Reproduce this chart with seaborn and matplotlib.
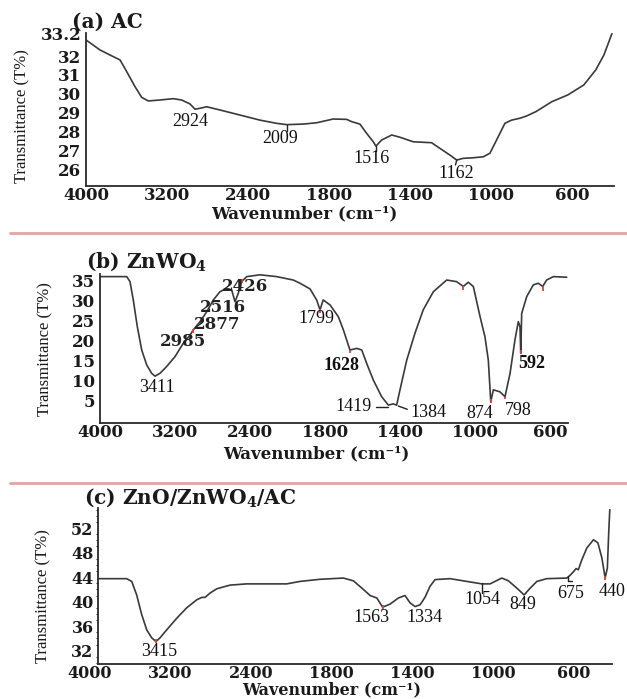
import numpy as np
import pandas as pd
import matplotlib
matplotlib.use("Agg")
import matplotlib.pyplot as plt
from matplotlib.lines import Line2D
import seaborn as sns

W, H = 627, 699

# ---------------- data ----------------
TICK_WN = [4000, 3200, 2400, 1800, 1400, 1000, 600]
TICK_LABELS = ["4000", "3200", "2400", "1800", "1400", "1000", "600"]

# (a) AC
AC_WN = [4000, 3862, 3763, 3664, 3598, 3516, 3450, 3385, 3269, 3138, 3055, 2973, 2923,
         2874, 2808, 2677, 2479, 2311, 2188, 2113, 1990, 1891, 1779, 1712, 1688, 1647,
         1614, 1581, 1568, 1540, 1490, 1449, 1384, 1293, 1252, 1202, 1169, 1137, 1088,
         1038, 1005, 972, 931, 898, 857, 824, 778, 699, 620, 541, 482, 442, 402]
AC_T = [32.86, 32.33, 32.06, 31.80, 31.18, 30.38, 29.81, 29.62, 29.67, 29.74, 29.67, 29.46, 29.18,
        29.23, 29.31, 29.14, 28.87, 28.60, 28.43, 28.36, 28.39, 28.46, 28.66, 28.64, 28.52, 28.39,
        27.90, 27.45, 27.22, 27.54, 27.81, 27.69, 27.45, 27.40, 27.10, 26.74, 26.48, 26.57, 26.60,
        26.65, 26.84, 27.54, 28.43, 28.60, 28.70, 28.82, 29.05, 29.58, 29.94, 30.47, 31.27, 32.06, 33.20]
AC_YTICKS = [26, 27, 28, 29, 30, 31, 32, 33.2]
AC_YLABELS = ["26", "27", "28", "29", "30", "31", "32", "33.2"]
AC_PEAKS = ["2924", "2009", "1516", "1162"]

# (b) ZnWO4
ZW_WN = [3993, 3715, 3680, 3645, 3602, 3555, 3502, 3449, 3413, 3360, 3289, 3200, 3111, 3040,
         3005, 2933, 2862, 2791, 2720, 2649, 2595, 2560, 2525, 2489, 2435, 2320, 2187, 2054,
         2000, 1920, 1867, 1840, 1814, 1773, 1729, 1702, 1667, 1631, 1604, 1578, 1542, 1498,
         1462, 1436, 1418, 1400, 1364, 1320, 1276, 1222, 1151, 1098, 1062, 1036, 1009, 973,
         947, 929, 916, 902, 867, 840, 813, 787, 769, 760, 756, 751, 724, 689, 662, 639,
         618, 582, 511]
ZW_T = [35.85, 35.85, 34.6, 30.05, 23.4, 17.6, 13.9, 11.8, 11.1, 11.8, 13.5, 15.95, 19.3, 21.3,
        22.6, 24.65, 27.1, 30.05, 32.1, 32.96, 32.5, 29.6, 31.7, 34.6, 35.85, 36.3, 35.85, 35.0,
        34.2, 32.8, 30.05, 27.6, 30.05, 28.8, 25.9, 22.6, 17.6, 18.0, 17.6, 14.3, 10.1, 6.0,
        3.9, 4.2, 3.9, 7.7, 15.1, 21.8, 27.6, 32.1, 35.0, 34.6, 33.4, 34.45, 33.4, 25.9,
        20.9, 15.1, 4.75, 7.7, 7.2, 6.0, 11.8, 20.1, 24.65, 23.4, 16.8, 26.7, 30.9, 33.8, 34.2, 33.4,
        35.0, 35.85, 35.7]
ZW_YTICKS = [5, 10, 15, 20, 25, 30, 35]
ZW_PEAKS = ["3411", "2985", "2877", "2516", "2426", "1799", "1628", "1419", "1384", "874", "798", "592"]
ZW_MARK_WN = [3005, 2898, 2489, 1840, 1667, 1062, 916, 840, 756, 639]
ZW_MARK_TOP = [22.75, 25.6, 35.2, 27.8, 17.6, 33.4, 5.5, 6.0, 17.5, 33.4]
ZW_MARK_BOT = [21.75, 24.65, 34.2, 26.8, 16.8, 32.5, 4.3, 5.4, 16.5, 32.2]

# (c) ZnO/ZnWO4/AC
ZZ_WN = [3918, 3636, 3586, 3537, 3487, 3437, 3388, 3345, 3305, 3239, 3139, 3040, 2941, 2891,
         2858, 2809, 2742, 2610, 2445, 2285, 2136, 2037, 1888, 1743, 1693, 1644, 1610, 1577,
         1548, 1511, 1470, 1437, 1412, 1387, 1362, 1338, 1313, 1288, 1213, 1130, 1056, 1015,
         957, 924, 882, 846, 816, 783, 734, 634, 618, 602, 588, 577, 560, 535, 502, 480,
         460, 444, 433, 426, 421]
ZZ_T = [43.75, 43.75, 43.3, 41.1, 37.9, 35.4, 34.1, 33.5, 34.1, 35.4, 37.3, 39.0, 40.3, 40.7,
        40.7, 41.4, 42.1, 42.7, 42.9, 42.9, 42.9, 43.3, 43.65, 43.85, 43.4, 42.0, 41.0, 40.6,
        39.1, 39.6, 40.6, 41.0, 39.8, 39.2, 39.5, 40.7, 42.5, 43.6, 43.75, 43.3, 42.9, 42.9,
        43.85, 43.4, 42.2, 41.1, 42.2, 43.3, 43.75, 43.85, 44.3, 44.85, 45.4, 45.2, 46.8, 48.75, 50.1, 49.6,
        47.1, 43.85, 45.5, 51.5, 55.0]
ZZ_YTICKS = [32, 36, 40, 44, 48, 52]
ZZ_PEAKS = ["3415", "1563", "1334", "1054", "849", "675", "440"]
ZZ_MARK_WN = [3345, 1548, 444]
ZZ_MARK_TOP = [33.9, 39.4, 44.2]
ZZ_MARK_BOT = [33.3, 38.8, 43.6]

# ---------------- style ----------------
sns.set_theme(style="white")
plt.rcParams["font.family"] = ["DejaVu Serif"]
plt.rcParams["mathtext.fontset"] = "dejavuserif"

CURVE = "#3a3a3a"
SPINE = "#2a2a2a"
RED = "#e0403c"
TIMES = ["Liberation Serif", "DejaVu Serif"]
WIDE = ["DejaVu Serif"]

# piecewise axis: tick labels equally spaced
_ext_wn = np.array([4800, 4000, 3200, 2400, 1800, 1400, 1000, 600, 200, -200], float)
_ext_pos = np.array([-1, 0, 1, 2, 3, 4, 5, 6, 7, 8], float)


def fwd(w):
    # increasing in wavenumber
    return -np.interp(-np.asarray(w, float), -_ext_wn, _ext_pos)


def inv(q):
    return np.interp(-np.asarray(q, float), _ext_pos, _ext_wn)


def box(l, t, r, b):
    return [l / W, 1 - b / H, (r - l) / W, (b - t) / H]


def fxy(x, y):
    return (x / W, 1 - y / H)


fig = plt.figure(figsize=(W / 100, H / 100), dpi=100)


def make_panel(rect, wn, t, xright, ylim, yticks, ylabels, left_spine=None, tsize=12):
    ax = fig.add_axes(box(*rect))
    df = pd.DataFrame({"wn": wn, "T": t})
    sns.lineplot(data=df, x="wn", y="T", ax=ax, color=CURVE, linewidth=1.2,
                 estimator=None, sort=False)
    ax.set_xscale("function", functions=(fwd, inv))
    ax.set_xlim(4000, xright)
    ax.set_ylim(*ylim)
    ax.set_xticks(TICK_WN, labels=TICK_LABELS)
    ax.set_yticks(yticks, labels=ylabels)
    ax.set_xlabel("")
    ax.set_ylabel("")
    for s in ["top", "right"]:
        ax.spines[s].set_visible(False)
    for s in ["left", "bottom"]:
        ax.spines[s].set_color(SPINE)
        ax.spines[s].set_linewidth(1.3)
    if left_spine is not None:
        ax.spines["left"].set_position(("data", left_spine))
        ax.spines["bottom"].set_bounds(left_spine, xright)
    ax.tick_params(axis="x", direction="out", length=0, pad=1, labelsize=tsize,
                   labelcolor="#1a1a1a")
    ax.tick_params(axis="y", direction="out", length=2.5, width=1, color=SPINE,
                   pad=1, labelsize=tsize, labelcolor="#1a1a1a")
    for lbl in ax.get_xticklabels() + ax.get_yticklabels():
        lbl.set_fontweight("bold")
        lbl.set_family(WIDE)
    return ax


# panel a
ax_a = make_panel((86, 33, 614, 186), AC_WN, AC_T, 392, (25.10, 33.23), AC_YTICKS, AC_YLABELS)
# panel b
ax_b = make_panel((100, 274, 568, 423), ZW_WN, ZW_T, 504, (-0.55, 36.5), ZW_YTICKS,
                  [str(v) for v in ZW_YTICKS])
ax_b.vlines(ZW_MARK_WN, ZW_MARK_BOT, ZW_MARK_TOP, color=RED, linewidth=1.3)
# panel c
ax_c = make_panel((90, 508, 612, 663.5), ZZ_WN, ZZ_T, 410, (29.91, 55.28), ZZ_YTICKS,
                  [str(v) for v in ZZ_YTICKS], left_spine=3916, tsize=11.5)
ax_c.vlines(ZZ_MARK_WN, ZZ_MARK_BOT, ZZ_MARK_TOP, color=RED, linewidth=1.3)
ax_c.yaxis.set_minor_locator(matplotlib.ticker.MultipleLocator(1))
ax_c.tick_params(axis="y", which="minor", left=True, length=1.5, width=0.8, color=SPINE)

# ---------------- titles / axis labels ----------------
TITLE_KW = dict(fontsize=14.5, fontweight="bold", family=WIDE, color="#1a1a1a",
                ha="left", va="center")
fig.text(*fxy(72, 21.5), "(a) AC", **TITLE_KW)
fig.text(*fxy(86, 262), r"(b) ZnWO$_\mathbf{4}$", **TITLE_KW)
fig.text(*fxy(84, 498), r"(c) ZnO/ZnWO$_\mathbf{4}$/AC", **TITLE_KW)

XLABEL = "Wavenumber (cm\u207b\u00b9)"
XL_KW = dict(fontsize=12, fontweight="bold", family=WIDE, color="#1a1a1a",
             ha="center", va="center")
fig.text(*fxy(304, 214), XLABEL, **XL_KW)
fig.text(*fxy(316, 454), XLABEL, **XL_KW)
fig.text(*fxy(332, 698.5), XLABEL, **dict(XL_KW, fontsize=11.5, va="bottom"))

YL_KW = dict(fontsize=12, family=TIMES, color="#1a1a1a", rotation=90,
             ha="center", va="center")
fig.text(*fxy(22, 116), "Transmittance (T%)", **YL_KW)
fig.text(*fxy(45, 349), "Transmittance (T%)", **YL_KW)
fig.text(*fxy(43, 596), "Transmittance (T%)", **YL_KW)

# ---------------- peak labels ----------------
PK = dict(fontsize=13, family=TIMES, color="#111111", ha="center", va="center")
PKB = dict(PK, fontweight="bold")
PKW = dict(fontsize=12, family=WIDE, fontweight="bold", color="#222222",
           ha="center", va="center")

for lab, (x, y) in zip(AC_PEAKS, [(190, 121.5), (280, 138.5), (371.7, 158.5), (456.7, 173.5)]):
    fig.text(*fxy(x, y), lab, **PK)

zw_pos = [(156.7, 388), (183.3, 341.7), (216.7, 324.5), (223.3, 307.5), (245, 287),
          (316.7, 318.3), (341.7, 365), (353.3, 406.7), (428.3, 412.3), (480, 413.3),
          (518.3, 410), (531.7, 364)]
zw_style = [PK, PKW, PKW, PKW, PKW, PK, PKB, PK, PK, PK, PK, PKB]
for lab, (x, y), kw in zip(ZW_PEAKS, zw_pos, zw_style):
    fig.text(*fxy(x, y), lab, **kw)

zz_pos = [(159, 651), (371.7, 617.3), (424, 617.3), (482.7, 599.7), (522.7, 604.7),
          (570.7, 593), (611.7, 591.3)]
for lab, (x, y) in zip(ZZ_PEAKS, zz_pos):
    fig.text(*fxy(x, y), lab, **PK)

# leader lines for labels (figure pixels)
LEADERS = [
    [(286.7, 125), (286.7, 131)],
    [(376, 146), (376, 151)],
    [(456.7, 160), (455.5, 165)],
    [(376, 407), (388, 407)],
    [(398.3, 406), (407.3, 409.3)],
    [(481.7, 583), (481.7, 593)],
    [(567.7, 576.3), (567.7, 580.7), (571.7, 580.7)],
]
for pts in LEADERS:
    xs = [p[0] / W for p in pts]
    ys = [1 - p[1] / H for p in pts]
    fig.add_artist(Line2D(xs, ys, color="#222222", linewidth=1.0))

# pink separators
for y in (233, 483.3):
    fig.add_artist(Line2D([10 / W, 1.0], [1 - y / H] * 2, color="#e3a3a3", linewidth=2))

fig.savefig("out.png", dpi=100)
